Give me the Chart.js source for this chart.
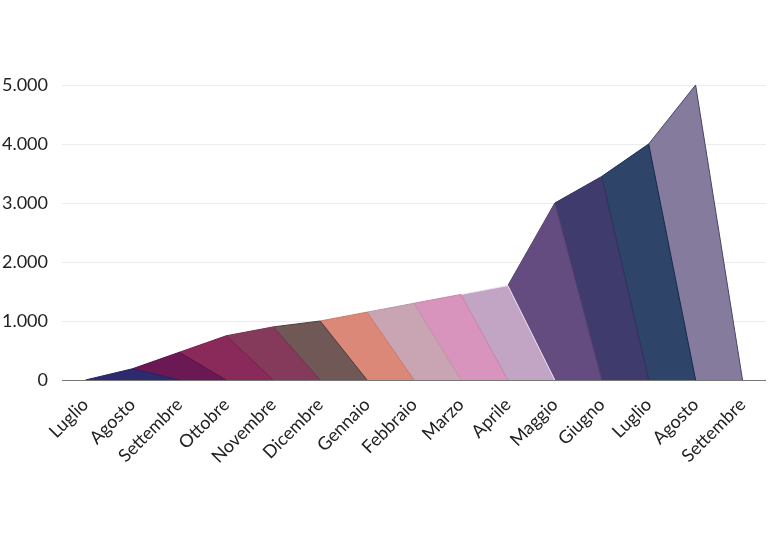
<!DOCTYPE html>
<html>
<head>
<meta charset="utf-8">
<script src="https://cdn.jsdelivr.net/npm/chart.js@4"></script>
<style>
  html, body { margin: 0; padding: 0; background: #fff; }
  #wrap { width: 768px; height: 541px; }
</style>
</head>
<body>
<div id="wrap"><canvas id="chart"></canvas></div>
<script>
// Months on the x axis
const months = ['Luglio', 'Agosto', 'Settembre', 'Ottobre', 'Novembre', 'Dicembre', 'Gennaio',
    'Febbraio', 'Marzo', 'Aprile', 'Maggio', 'Giugno', 'Luglio', 'Agosto', 'Settembre'];
// Cumulative values
const values = [0, 190, 470, 750, 900, 1000, 1150, 1300, 1450, 1600, 3000, 3450, 4000, 5000, 0];
const yTicks = [0, 1000, 2000, 3000, 4000, 5000];
// One colour per month band
const fills = ['#2b2a6b', '#2e2a6e', '#6a1955', '#8a2a5b', '#853a5b', '#6f5856', '#dc8878',
    '#c9a5b4', '#d894bc', '#c2a4c5', '#654c80', '#3f3b6c', '#2e4468', '#857b9d', '#857b9d'];
const borders = ['#2b2a6b', '#27245e', '#5a1348', '#7a2050', '#75304f', '#4e3c3a', '#c97a6a',
    '#b996a6', '#c884ac', '#f0e6f2', '#574270', '#33305e', '#152a4e', '#4a4466', '#4a4466'];

function fmt(v) {
    return String(v).replace(/\B(?=(\d{3})+(?!\d))/g, '.');
}

// Each band is a little mountain: previous value, own value, then down to zero
const datasets = [];
for (let k = 1; k < values.length - 1; k++) {
    const data = months.map(() => null);
    data[k - 1] = values[k - 1];
    data[k] = values[k];
    data[k + 1] = 0;
    datasets.push({
        label: months[k],
        data: data,
        backgroundColor: fills[k],
        borderColor: borders[k],
        borderWidth: 1,
        pointRadius: 0,
        tension: 0,
        fill: 'origin'
    });
}

new Chart(document.getElementById('chart'), {
    type: 'line',
    data: { labels: months, datasets: datasets },
    options: {
        responsive: true,
        maintainAspectRatio: false,
        animation: false,
        layout: { padding: { top: 85, right: 2, left: 0, bottom: 0 } },
        plugins: { legend: { display: false }, tooltip: { enabled: false } },
        scales: {
            x: {
                offset: true,
                grid: { display: false },
                border: { display: false },
                afterFit: s => { s.height = 161; },
                ticks: {
                    autoSkip: false,
                    maxRotation: 45,
                    minRotation: 45,
                    color: '#222',
                    padding: 6,
                    font: { family: 'Lato', size: 18 }
                }
            },
            y: {
                min: 0,
                max: 5000,
                afterFit: s => { s.width = 62; },
                afterBuildTicks: s => { s.ticks = yTicks.map(v => ({ value: v })); },
                border: { display: false },
                grid: {
                    color: c => c.tick.value === 0 ? '#777' : '#ececec',
                    drawTicks: false
                },
                ticks: {
                    color: '#222',
                    padding: 14,
                    font: { family: 'Lato', size: 18 },
                    callback: v => fmt(v)
                }
            }
        }
    }
});
</script>
</body>
</html>
